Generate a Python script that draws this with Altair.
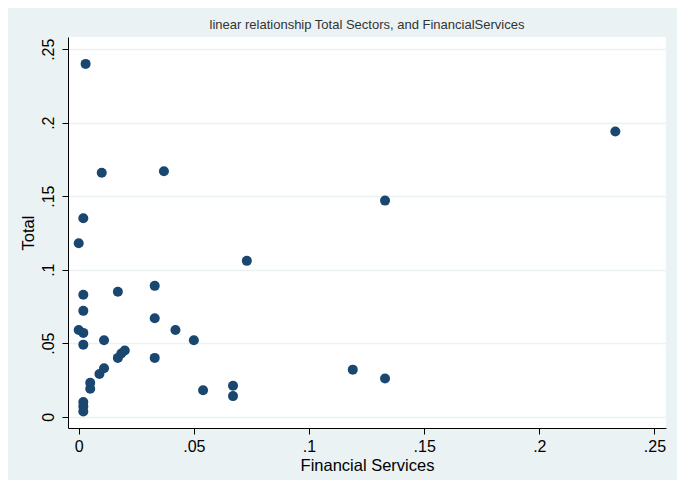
import altair as alt
import pandas as pd

fin_services = [0.003, 0.233, 0.037, 0.010, 0.133, 0.002, 0.000, 0.073, 0.002, 0.017,
                0.033, 0.002, 0.033, 0.042, 0.000, 0.002, 0.002, 0.011, 0.050, 0.017,
                0.0185, 0.020, 0.033, 0.011, 0.009, 0.005, 0.005, 0.054, 0.067, 0.067,
                0.119, 0.133, 0.002, 0.002, 0.002]
total = [0.240, 0.194, 0.167, 0.166, 0.147, 0.135, 0.118, 0.106, 0.083, 0.085,
         0.089, 0.072, 0.067, 0.059, 0.059, 0.057, 0.049, 0.052, 0.052, 0.040,
         0.043, 0.045, 0.040, 0.033, 0.029, 0.023, 0.019, 0.018, 0.021, 0.014,
         0.032, 0.026, 0.010, 0.007, 0.0035]
tick_values = [0, 0.05, 0.1, 0.15, 0.2, 0.25]

df = pd.DataFrame({"Financial Services": fin_services, "Total": total})

label_expr = "datum.value == 0 ? '0' : replace(format(datum.value, '.2~f'), '0.', '.')"
FONT = "Liberation Sans"
BG = "#EAF2F3"

chart = alt.Chart(df).mark_circle(size=100, color="#1A476F", opacity=1).encode(
    x=alt.X("Financial Services:Q",
            scale=alt.Scale(domain=[-0.00465, 0.255], nice=False, zero=False),
            axis=alt.Axis(values=tick_values, labelExpr=label_expr, grid=False,
                          title="Financial Services", titleFontSize=16.5,
                          titleFont=FONT, titleFontWeight="normal", titleColor="#000000",
                          titlePadding=3,
                          labelFont=FONT, labelFontSize=16, labelColor="#000000",
                          labelPadding=4, tickSize=6, tickColor="#000000",
                          domainColor="#000000", labelFlush=False)),
    y=alt.Y("Total:Q",
            scale=alt.Scale(domain=[-0.0077, 0.2583], nice=False, zero=False),
            axis=alt.Axis(values=tick_values, labelExpr=label_expr, grid=True,
                          gridColor=BG, gridWidth=1.5,
                          title="Total", titleFontSize=16.5, titleFont=FONT,
                          titleFontWeight="normal", titleColor="#000000", titlePadding=4,
                          labelFont=FONT, labelFontSize=16, labelColor="#000000",
                          labelAngle=270, labelAlign="center", labelBaseline="bottom",
                          labelPadding=6, tickSize=6, tickColor="#000000",
                          domainColor="#000000", labelFlush=False)),
).properties(
    width=598,
    height=391,
    title=alt.TitleParams("linear relationship Total Sectors, and FinancialServices",
                          font=FONT, fontSize=13, fontWeight="normal", color="#333333",
                          anchor="middle", offset=5),
    autosize=alt.AutoSizeParams(type="none"),
    padding={"left": 60, "top": 29, "right": 11, "bottom": 52},
    background=BG,
).configure_view(fill="#FFFFFF", stroke=None)

chart.save("out.html", embed_options={"renderer": "svg", "actions": False})
